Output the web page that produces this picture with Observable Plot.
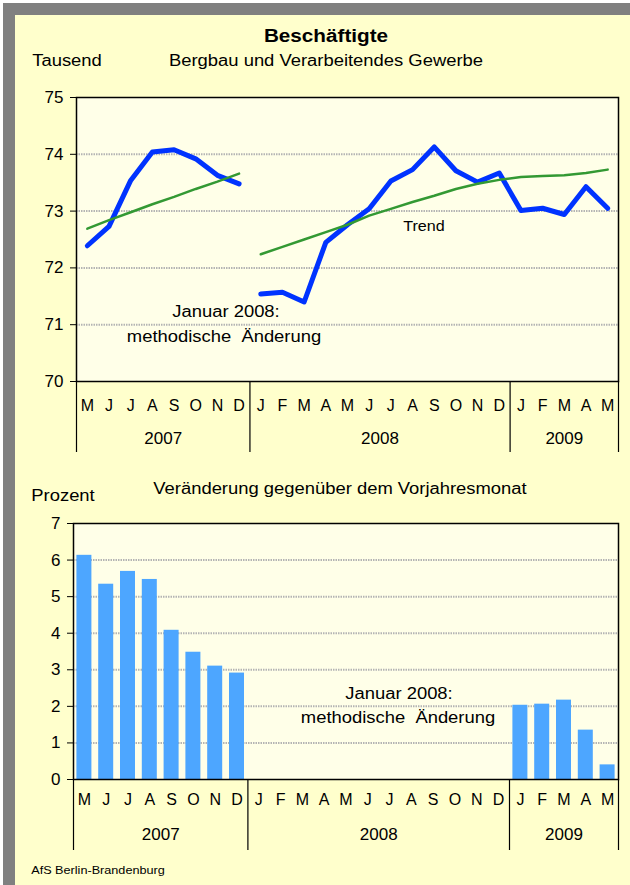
<!DOCTYPE html>
<html>
<head>
<meta charset="utf-8">
<script src="https://cdn.jsdelivr.net/npm/d3@7"></script>
<script src="https://cdn.jsdelivr.net/npm/@observablehq/plot@0.6"></script>
<style>
  html, body { margin: 0; padding: 0; background: #ffffff; }
  #c { position: relative; width: 630px; height: 885px; overflow: hidden; background: #ffffff;
       font-family: "Liberation Sans", Arial, sans-serif; color: #000; }
  #gray { position: absolute; left: 3px; top: 3px; right: 0; bottom: 0; background: #808080; }
  #panel { position: absolute; left: 15px; top: 15px; right: 0; bottom: 0; background: #ffffcc; }
  .lbl { position: absolute; white-space: pre; line-height: 1; }
  .chart { position: absolute; left: 0; }
</style>
</head>
<body>
<div id="c">
  <div id="gray"></div>
  <div id="panel"></div>
</div>
<script>
// ---- data ----
const monthLetters = ["M","J","J","A","S","O","N","D","J","F","M","A","M","J","J","A","S","O","N","D","J","F","M","A","M"];
const yearOfMonth  = [2007,2007,2007,2007,2007,2007,2007,2007,
                      2008,2008,2008,2008,2008,2008,2008,2008,2008,2008,2008,2008,
                      2009,2009,2009,2009,2009];
// Beschäftigte (Tausend)
const employed = [72.39,72.73,73.54,74.04,74.08,73.92,73.63,73.48,
                  71.54,71.57,71.40,72.45,72.76,73.04,73.53,73.73,74.13,73.71,73.51,73.67,
                  73.01,73.05,72.94,73.43,73.05];
// Trend
const trend = [72.69,72.84,72.98,73.12,73.25,73.39,73.52,73.66,
               72.24,72.37,72.50,72.63,72.76,72.92,73.04,73.16,73.27,73.39,73.48,73.55,
               73.60,73.62,73.63,73.67,73.73];
// Veränderung gegenüber dem Vorjahresmonat (Prozent)
const change = [6.13,5.34,5.69,5.47,4.08,3.48,3.10,2.91,
                null,null,null,null,null,null,null,null,null,null,null,null,
                2.03,2.06,2.17,1.35,0.40];
const topTicks = [70,71,72,73,74,75];
const topGrid = [71,72,73,74];
const botTicks = [0,1,2,3,4,5,6,7];
const botGrid = [1,2,3,4,5,6];

// ---- derived tables ----
const rows = monthLetters.map((m, i) => ({
  i, m, year: yearOfMonth[i],
  seg: yearOfMonth[i] === 2007 ? "vor" : "nach",
  emp: employed[i], tr: trend[i], ch: change[i]
}));
const yearRows = d3.groups(rows, d => d.year).map(([year, r]) => ({
  year: String(year), mid: (r[0].i + r[r.length - 1].i) / 2
}));
const bounds = [];
d3.groups(rows, d => d.year).forEach(([, r]) => bounds.push(r[0].i - 0.5));
bounds.push(rows[rows.length - 1].i + 0.5);

const FONT = '"Liberation Sans", Arial, sans-serif';
const xDomain = [-0.5, rows.length - 0.5];

function axisMarks(yMin, dyMonth, dyYear) {
  return [
    Plot.text(rows, {x: "i", text: "m", frameAnchor: "bottom", dy: dyMonth, fontSize: 16}),
    Plot.text(yearRows, {x: "mid", text: "year", frameAnchor: "bottom", dy: dyYear, fontSize: 17}),
    Plot.ruleX(bounds, {x: d => d, y1: yMin, y2: yMin, insetBottom: -71, stroke: "#000", strokeWidth: 1.2})
  ];
}

// ---- top chart ----
const chartTop = Plot.plot({
  width: 630, height: 470,
  marginTop: 97, marginBottom: 89, marginLeft: 76, marginRight: 12,
  style: {background: "transparent", fontFamily: FONT, overflow: "visible"},
  x: {domain: xDomain, axis: null},
  y: {domain: [70, 75]},
  marks: [
    Plot.frame({fill: "#ffffe8"}),
    Plot.gridY(topGrid, {stroke: "#b4b4b4", strokeOpacity: 1, strokeWidth: 2, strokeDasharray: "1.5,1"}),
    Plot.axisY({ticks: topTicks, tickSize: 6, tickPadding: 7, fontSize: 17, label: null, tickFormat: d => d}),
    Plot.line(rows, {x: "i", y: "emp", z: "seg", stroke: "#0033ff", strokeWidth: 5}),
    Plot.line(rows, {x: "i", y: "tr", z: "seg", stroke: "#339933", strokeWidth: 2.5}),
    Plot.frame({stroke: "#000", strokeWidth: 1.5}),
    ...axisMarks(70, 29, 62)
  ]
});
chartTop.classList.add("chart");
chartTop.style.top = "0px";

// ---- bottom chart ----
const chartBot = Plot.plot({
  width: 630, height: 415,
  marginTop: 53, marginBottom: 106, marginLeft: 73, marginRight: 12,
  style: {background: "transparent", fontFamily: FONT, overflow: "visible"},
  x: {domain: xDomain, axis: null},
  y: {domain: [0, 7]},
  marks: [
    Plot.frame({fill: "#ffffe8"}),
    Plot.gridY(botGrid, {stroke: "#b4b4b4", strokeOpacity: 1, strokeWidth: 2, strokeDasharray: "1.5,1"}),
    Plot.rectY(rows.filter(d => d.ch != null), {x1: d => d.i - 0.5, x2: d => d.i + 0.5, y: "ch",
      insetLeft: 3.4, insetRight: 3.4, fill: "#4da6ff"}),
    Plot.axisY({ticks: botTicks, tickSize: 6, tickPadding: 7, fontSize: 17, label: null, tickFormat: d => d}),
    Plot.frame({stroke: "#000", strokeWidth: 1.5}),
    ...axisMarks(0, 25, 60)
  ]
});
chartBot.classList.add("chart");
chartBot.style.top = "470px";

const c = document.getElementById("c");
c.appendChild(chartTop);
c.appendChild(chartBot);

// ---- titles and annotations ----
function label(text, cx, cy, size, extra) {
  const d = document.createElement("div");
  d.className = "lbl";
  d.textContent = text;
  d.style.left = cx + "px";
  d.style.top = cy + "px";
  d.style.fontSize = size + "px";
  d.style.transform = "translate(-50%,-50%) scaleX(1.15)";
  if (extra) Object.assign(d.style, extra);
  c.appendChild(d);
}
label("Beschäftigte", 326, 36, 18, {fontWeight: "bold"});
label("Tausend", 66.5, 61, 16);
label("Bergbau und Verarbeitendes Gewerbe", 326, 61, 16);
label("Trend", 424, 226, 14);
label("Januar 2008:", 226, 312, 16);
label("methodische  Änderung", 224, 337, 16);
label("Prozent", 62.5, 496, 16);
label("Veränderung gegenüber dem Vorjahresmonat", 340, 489, 16);
label("Januar 2008:", 399, 694, 16);
label("methodische  Änderung", 398, 718, 16);
label("AfS Berlin-Brandenburg", 98, 870, 11);
</script>
</body>
</html>
